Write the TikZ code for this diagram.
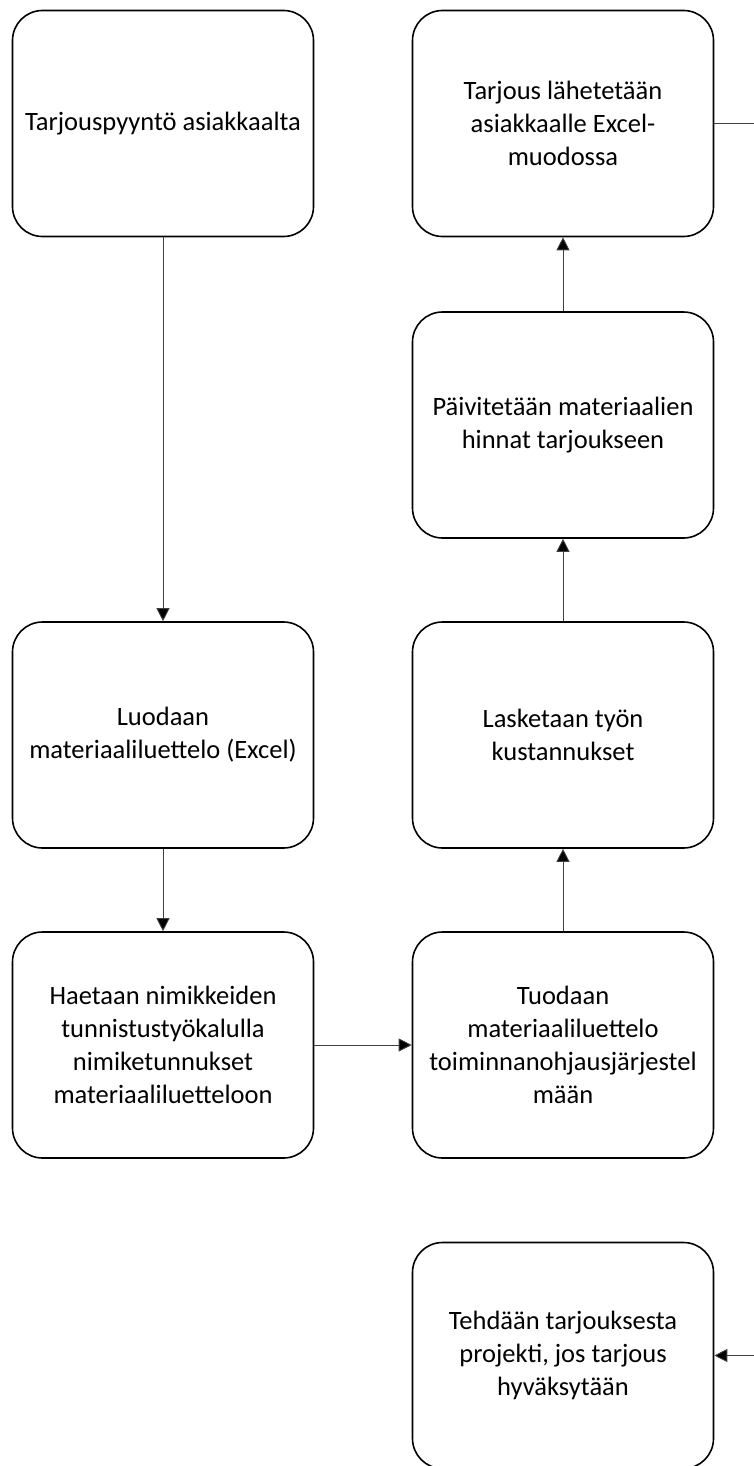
\documentclass[tikz,border=0pt]{standalone}
\usepackage{fontspec}
\setmainfont{Carlito}
\usetikzlibrary{arrows.meta}
\begin{document}
\begin{tikzpicture}[x=1pt,y=-1pt,
  procbox/.style={draw=black, line width=1.6pt, rounded corners=30pt,
    minimum width=301pt, minimum height=226pt, inner sep=0pt,
    align=center, font=\fontsize{26.5}{33}\selectfont},
  flow/.style={draw=black!75, line width=0.9pt,
    -{Triangle[length=13pt,width=13pt,fill=black]}},
  plain/.style={draw=black!75, line width=0.9pt}]
\useasboundingbox (0,0) rectangle (754,1466);

\node[procbox] (b1) at (163,123.5) {Tarjouspyyntö asiakkaalta};
\node[procbox] (b2) at (163,735) {Luodaan\\materiaaliluettelo (Excel)};
\node[procbox] (b3) at (163,1045) {Haetaan nimikkeiden\\tunnistustyökalulla\\nimiketunnukset\\materiaaliluetteloon};
\node[procbox] (b4) at (563,1045) {Tuodaan\\materiaaliluettelo\\toiminnanohjausjärjestel\\mään};
\node[procbox] (b5) at (563,735) {Lasketaan työn\\kustannukset};
\node[procbox] (b6) at (563,425) {Päivitetään materiaalien\\hinnat tarjoukseen};
\node[procbox] (b7) at (563,123.5) {Tarjous lähetetään\\asiakkaalle Excel-\\muodossa};
\node[procbox] (b8) at (563,1355.5) {Tehdään tarjouksesta\\projekti, jos tarjous\\hyväksytään};

\coordinate (outTop) at (754,123.5);
\coordinate (inBot) at (754,1355.5);

\draw[flow] (b1) -- (b2);
\draw[flow] (b2) -- (b3);
\draw[flow] (b3) -- (b4);
\draw[flow] (b4) -- (b5);
\draw[flow] (b5) -- (b6);
\draw[flow] (b6) -- (b7);
\draw[plain] (b7.east) -- (outTop);
\draw[flow] (inBot) -- (b8.east);
\end{tikzpicture}
\end{document}
